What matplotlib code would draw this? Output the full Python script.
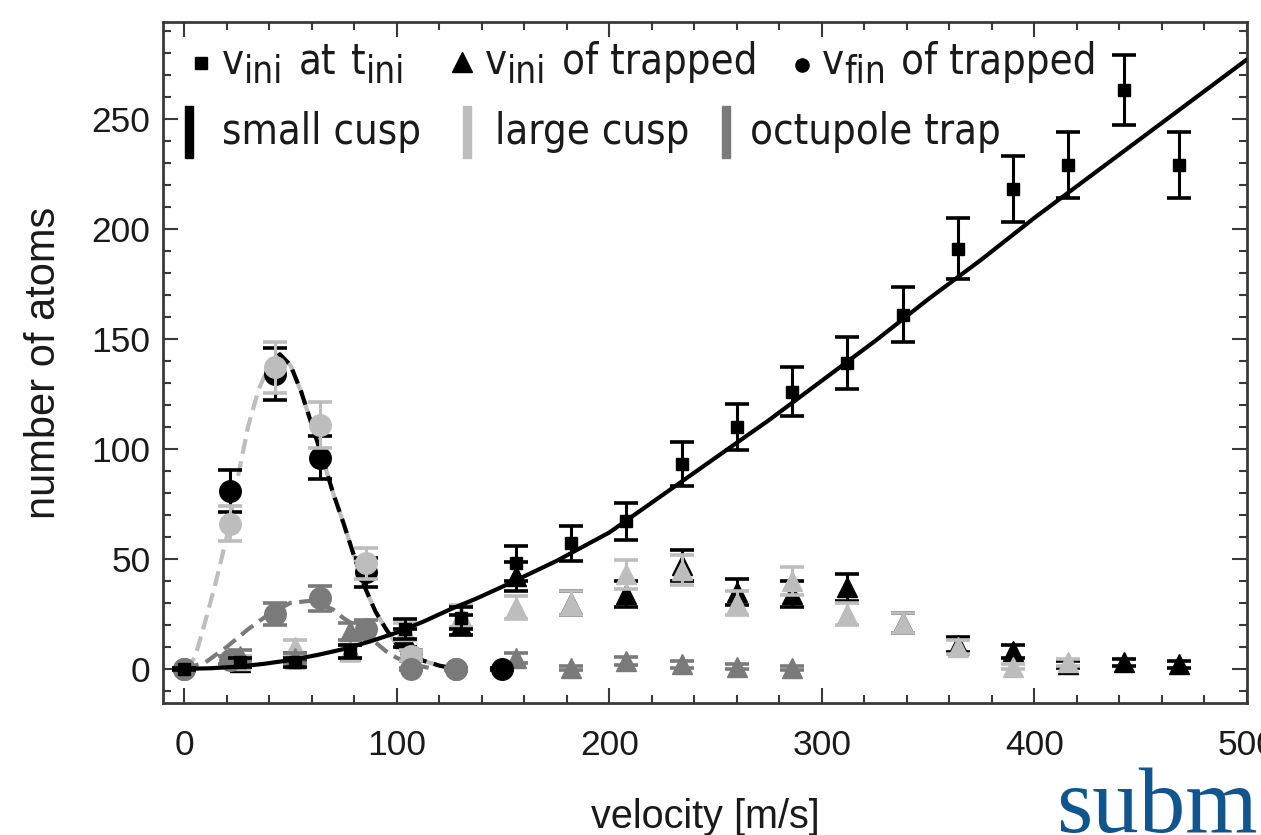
import numpy as np
import matplotlib
matplotlib.use('Agg')
import matplotlib.pyplot as plt
from matplotlib.patches import Rectangle
from matplotlib import font_manager as fm

# ---------------- data ----------------
# v_ini at t_ini (squares)
v_sq = [0, 26, 52, 78, 104, 130, 156, 182, 208, 234, 260, 286, 312, 338, 364, 390, 416, 442, 468]
n_sq = [0, 3, 3, 8, 18, 23, 48, 57, 67, 93, 110, 126, 139, 161, 191, 218, 229, 263, 229]
e_sq = [0.5, 2, 2, 3, 4.5, 5, 8, 8, 8.5, 10, 10.5, 11, 12, 12.5, 14, 15, 15, 16, 15]

# v_ini of trapped (triangles)
v_tri_small = [26, 52, 78, 104, 130, 156, 182, 208, 234, 260, 286, 312, 338, 364, 390, 416, 442, 468]
n_tri_small = [3, 5, 8, 14, 20, 42, 30, 34, 47, 35, 34, 37, 21, 11, 8, 2, 3, 2]
e_tri_small = [2, 2, 3, 4, 4.5, 6.5, 5.5, 6, 7, 6, 6, 6, 4.5, 3.3, 3, 1.5, 1.7, 1.5]

v_tri_large = [26, 52, 78, 104, 130, 156, 182, 208, 234, 260, 286, 312, 338, 364, 390, 416]
n_tri_large = [4, 10, 8, 17, 24, 28, 30, 43, 45, 30, 40, 25, 21, 10, 1, 3]
e_tri_large = [2, 3.2, 3, 4, 5, 5.3, 5.5, 6.5, 6.7, 5.5, 6.3, 5, 4.6, 3.2, 1, 1.7]

v_tri_oct = [26, 52, 78, 156, 182, 208, 234, 260, 286]
n_tri_oct = [6, 5, 17, 5, 0.5, 3.5, 2, 1, 0.5]
e_tri_oct = [2.4, 2.2, 4, 2.2, 1, 1.9, 1.4, 1, 1]

# v_fin of trapped (circles)
v_circ_small = [0, 21.3, 42.6, 64.0, 85.3, 106.6, 128.0, 149.3]
n_circ_small = [0, 81, 134, 96, 44, 6, 0, 0]
e_circ_small = [0.5, 9.5, 12, 9.8, 6.6, 2.4, 0.5, 0.5]

v_circ_large = [0, 21.3, 42.6, 64.0, 85.3, 106.6, 128.0]
n_circ_large = [0, 66, 137, 111, 48, 6, 0]
e_circ_large = [0.5, 8, 11.7, 10.5, 7, 2.4, 0.5]

v_circ_oct = [0, 21.3, 42.6, 64.0, 85.3, 106.6, 128.0]
n_circ_oct = [0, 4, 25, 32, 18, 0, 0]
e_circ_oct = [0.5, 2, 5, 5.6, 4.2, 0.5, 0.5]

# fitted curves
v_fit_ini = [0, 12.5, 25, 37.5, 50, 62.5, 75, 87.5, 100, 112.5, 125, 137.5, 150, 175, 200, 225, 250,
             275, 300, 325, 350, 375, 400, 425, 450, 475, 500]
n_fit_ini = [0, 0.3, 1, 2.3, 4, 6.3, 9, 12.5, 16.5, 21.5, 27, 32, 37.5, 49, 62, 79, 96,
             113, 131, 149, 168, 186, 205, 223, 241, 259, 277]

v_fit_large = [0, 5, 10, 15, 20, 25, 30, 35, 40, 45, 50, 55, 60, 65, 70, 75, 80, 85, 90, 95, 100, 105, 110, 115, 120, 125, 130]
n_fit_large = [0, 5, 22, 40, 60, 86, 110, 127, 138, 142, 138, 126, 111, 96, 80, 66, 51, 37, 26, 18, 11, 7, 4.5, 3, 1.5, 0.5, 0]

v_fit_small = [40, 45, 50, 55, 60, 65, 70, 75, 80, 85, 90, 95, 100, 105, 110, 115, 120, 125, 130]
n_fit_small = [139, 143, 138, 126, 111, 96, 80, 66, 51, 37, 26, 18, 11, 7, 4.5, 3, 1.5, 0.5, 0]

v_fit_oct = [0, 10, 20, 25, 30, 40, 50, 60, 70, 75, 80, 85, 90, 95, 100, 105, 110, 115]
n_fit_oct = [0, 3, 10, 14, 18, 25, 30, 31, 27, 23, 20, 16, 12, 8, 5, 3, 1.5, 0.5]

x_ticks = [0, 100, 200, 300, 400, 500]
y_ticks = [0, 50, 100, 150, 200, 250]

# ---------------- styling ----------------
C_SMALL = '#000000'
C_LARGE = '#bdbdbd'
C_OCT = '#7a7a7a'
FRAME = '#3a3a3a'
TXT = '#1a1a1a'

W, H = 1261, 835
fig = plt.figure(figsize=(W / 100, H / 100), dpi=100)
ax = fig.add_axes([163 / W, 1 - 703 / H, (1247 - 163) / W, (703 - 22) / H])

SANS = ['Liberation Sans', 'DejaVu Sans']
tick_font = dict(family=SANS, size=25.5)


def eb(x, y, e, color, marker, ms, z):
    ax.errorbar(x, y, yerr=e, fmt=marker, color=color, ms=ms, mec=color, mfc=color,
                elinewidth=2.2, capsize=8.5, capthick=2.6, zorder=z)


DASH = (3.6, 1.8)
# fit lines
ax.plot(v_fit_ini, n_fit_ini, color=C_SMALL, lw=3.0, zorder=4, solid_capstyle='round')
ax.plot(v_fit_oct, n_fit_oct, color=C_OCT, lw=3.0, ls=(0, DASH), zorder=2)
ax.plot(v_fit_large, n_fit_large, color=C_LARGE, lw=3.0, ls=(0, DASH), zorder=2)
ax.plot(v_fit_small, n_fit_small, color=C_SMALL, lw=3.0, ls=(2.7, DASH), zorder=2.5)

# triangles
eb(v_tri_small, n_tri_small, e_tri_small, C_SMALL, '^', 14, 3)
eb(v_tri_large, n_tri_large, e_tri_large, C_LARGE, '^', 14, 3.1)
eb(v_tri_oct, n_tri_oct, e_tri_oct, C_OCT, '^', 14, 3.2)

# circles
eb(v_circ_small, n_circ_small, e_circ_small, C_SMALL, 'o', 15.5, 3.3)
eb(v_circ_large, n_circ_large, e_circ_large, C_LARGE, 'o', 15.5, 3.4)
eb(v_circ_oct, n_circ_oct, e_circ_oct, C_OCT, 'o', 15.5, 3.5)

# squares
eb(v_sq, n_sq, e_sq, C_SMALL, 's', 9, 3.6)

ax.set_xlim(-10, 500)
ax.set_ylim(-15.5, 294)
ax.set_xticks(x_ticks)
ax.set_yticks(y_ticks)
ax.set_xticks(np.arange(0, 501, 20), minor=True)
ax.set_yticks(np.arange(-10, 291, 10), minor=True)
ax.set_xticklabels([str(t) for t in x_ticks], fontdict=tick_font)
ax.set_yticklabels([str(t) for t in y_ticks], fontdict=tick_font)
ax.tick_params(which='both', direction='in', top=True, right=True, color=FRAME, width=1.5)
ax.tick_params(which='major', length=11)
ax.tick_params(which='minor', length=5.5)
ax.tick_params(axis='x', which='major', pad=19, labelcolor=TXT)
ax.tick_params(axis='y', which='major', pad=9, labelcolor=TXT)
for sp in ax.spines.values():
    sp.set_color(FRAME)
    sp.set_linewidth(2.0)

ax.set_xlabel('velocity [m/s]', fontsize=28.5, family=SANS, labelpad=26, color=TXT)
ax.set_ylabel('number of atoms', fontsize=30, family=SANS, labelpad=20, color=TXT)

# ---------------- legend (drawn by hand) ----------------
def fx(px):
    return px / W


def fy(py):
    return 1 - py / H


# pick a condensed sans face if one is installed
cond_path = None
for f in fm.fontManager.ttflist:
    fn = f.fname.lower()
    if f.name == 'DejaVu Sans' and 'condensed' in fn and 'bold' not in fn and 'oblique' not in fn:
        cond_path = f.fname
        break
if cond_path is None:
    for f in fm.fontManager.ttflist:
        fn = f.fname.lower()
        if f.name in ('Liberation Sans Narrow', 'Roboto Condensed') and 'bold' not in fn and 'italic' not in fn:
            cond_path = f.fname
            break

LEG_SIZE = 30 if cond_path else 26.5


def leg_prop(size):
    if cond_path:
        return fm.FontProperties(fname=cond_path, size=size)
    return fm.FontProperties(family='DejaVu Sans', size=size)


renderer = fig.canvas.get_renderer()


def rich(x_px, base_px, pieces):
    x = x_px
    for s, kind in pieces:
        if kind == 'gap':
            x += LEG_SIZE * 1.389 * 0.36
            continue
        if kind == 'sub':
            sz = LEG_SIZE * 0.88
            dy = LEG_SIZE * 1.389 * 0.22
        else:
            sz = LEG_SIZE
            dy = 0
        t = fig.text(fx(x), fy(base_px + dy), s, fontproperties=leg_prop(sz), color=TXT,
                     ha='left', va='baseline')
        x += t.get_window_extent(renderer).width


row1 = 74
row2 = 144
fig.lines.append(plt.Line2D([fx(201)], [fy(63)], marker='s', ms=9, color='k', transform=fig.transFigure))
rich(222, row1, [('v', 'n'), ('ini', 'sub'), ('', 'gap'), ('at', 'n'), ('', 'gap'), ('t', 'n'), ('ini', 'sub')])
fig.lines.append(plt.Line2D([fx(462)], [fy(62)], marker='^', ms=14, color='k', transform=fig.transFigure))
rich(485, row1, [('v', 'n'), ('ini', 'sub'), ('', 'gap'), ('of trapped', 'n')])
fig.lines.append(plt.Line2D([fx(802)], [fy(65)], marker='o', ms=9.5, color='k', transform=fig.transFigure))
rich(822, row1, [('v', 'n'), ('fin', 'sub'), ('', 'gap'), ('of trapped', 'n')])

for x0, c, label, tx in [(185, C_SMALL, 'small cusp', 222), (463, C_LARGE, 'large cusp', 495),
                         (722, C_OCT, 'octupole trap', 750)]:
    fig.add_artist(Rectangle((fx(x0), fy(158)), 8 / W, 52 / H, color=c, transform=fig.transFigure))
    rich(tx, row2, [(label, 'n')])

# watermark fragment visible at the bottom right of the reference
fig.text(fx(1056), fy(832), 'subm', family=['Liberation Serif', 'DejaVu Serif'], size=67,
         color='#11558f', ha='left', va='baseline')

fig.savefig('out.png', dpi=100)
